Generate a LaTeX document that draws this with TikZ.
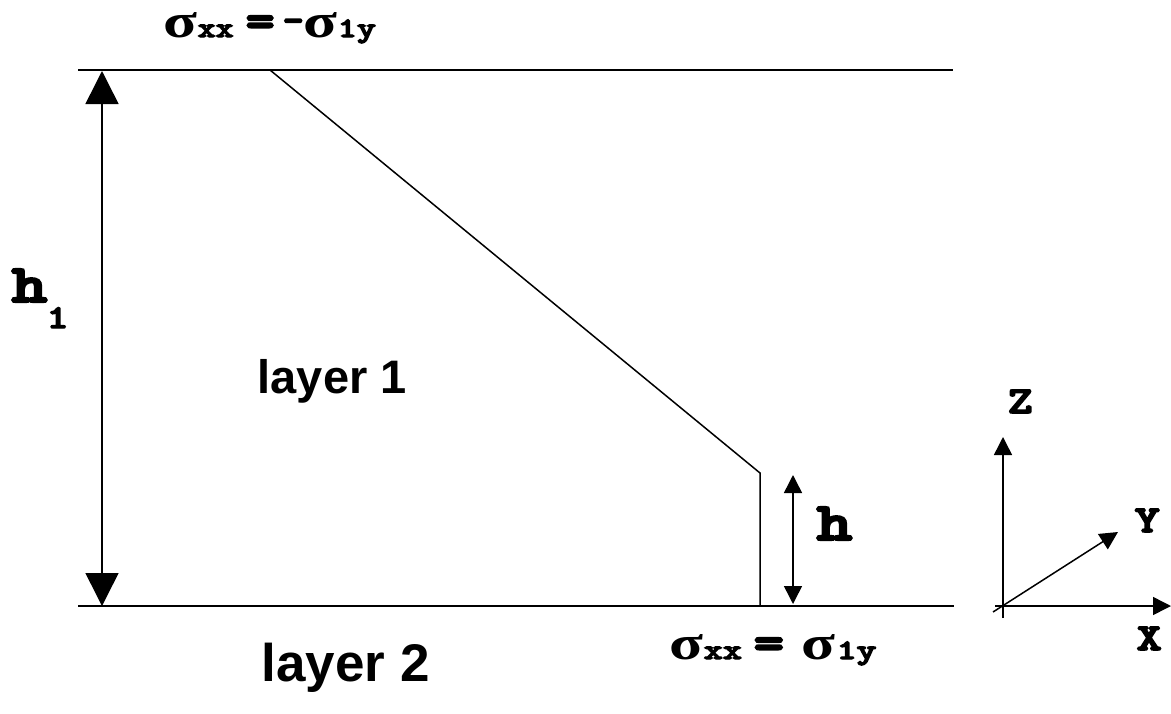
\documentclass[tikz,border=0pt]{standalone}
\usepackage{fontspec}
\usepackage{graphicx}
\setmainfont{Liberation Serif}
\newfontfamily\courfam{lmmonolt10-bold.otf}[FakeBold=4]
\newfontfamily\arialfam{Liberation Sans}
\usetikzlibrary{arrows.meta}
% mono text: size, horizontal stretch, text
\newcommand\mono[3]{\scalebox{#2}[1]{\courfam\fontsize{#1}{#1}\selectfont #3}}
\newcommand\sig[1]{\scalebox{1.3}[1]{\bfseries\fontsize{#1}{#1}\selectfont σ}}
\begin{document}
\begin{tikzpicture}[x=1pt,y=-1pt,line width=1.5pt,
  bigtip/.style={{Triangle[width=33pt,length=33pt]}-{Triangle[width=33pt,length=33pt]}},
  smalltip/.style={{Triangle[width=18pt,length=18pt]}-{Triangle[width=18pt,length=18pt]}},
  axis/.style={-{Triangle[width=18pt,length=18pt]}},
  lbl/.style={inner sep=0pt,anchor=base west},
  layertxt/.style={lbl,font=\arialfam\bfseries}]
\useasboundingbox (0,0) rectangle (1171,713);
% boundary lines
\coordinate (tl) at (78,70);
\coordinate (tr) at (953,70);
\coordinate (bl) at (78,606);
\coordinate (br) at (954,606);
\draw (tl) -- (tr);
\draw (bl) -- (br);
% stress profile
\coordinate (d0) at (270,70);
\coordinate (d1) at (760,473);
\coordinate (d2) at (760,606);
\draw (d0) -- (d1) -- (d2);
% h1 dimension
\coordinate (h1b) at (102,606);
\coordinate (h1t) at (102,71);
\draw[bigtip] (h1b) -- (h1t);
\node[lbl] (h1lab) at (11,302) {\mono{54}{1.25}{h}};
\node[lbl] (h1sub) at (46,328) {\mono{33}{1.25}{1}};
% h dimension
\coordinate (hb) at (793,604);
\coordinate (ht) at (793,475);
\draw[smalltip] (hb) -- (ht);
\node[lbl] (hlab) at (816,540) {\mono{54}{1.25}{h}};
% layer labels
\node[layertxt,font=\arialfam\bfseries\fontsize{47}{47}\selectfont] (lay1) at (257,393) {layer 1};
\node[layertxt,font=\arialfam\bfseries\fontsize{53}{53}\selectfont] (lay2) at (261,681) {layer 2};
% top stress label
\node[lbl] (ts1) at (163,37) {\sig{48}};
\node[lbl] (tsub1) at (197,37) {\mono{28}{1.22}{xx}};
\node[lbl] (teq) at (245,37) {\mono{50}{1.1}{=}};
\node[lbl] (tneg) at (282,33) {\mono{40}{1.0}{-}};
\node[lbl] (ts2) at (303,37) {\sig{48}};
\node[lbl] (tsub2) at (337,37) {\mono{28}{1.3}{1y}};
% bottom stress label
\node[lbl] (bs1) at (669,659) {\sig{48}};
\node[lbl] (bsub1) at (703,659) {\mono{28}{1.3}{xx}};
\node[lbl] (beq) at (753,659) {\mono{50}{1.15}{=}};
\node[lbl] (bs2) at (801,659) {\sig{48}};
\node[lbl] (bsub2) at (836,659) {\mono{28}{1.35}{1y}};
% axes
\coordinate (o) at (1003,606);
\coordinate (zb) at (1003,618);
\coordinate (zt) at (1003,437);
\coordinate (xb) at (995,606);
\coordinate (xt) at (1171,606);
\coordinate (yb) at (993,612);
\coordinate (yt) at (1118,532);
\draw[axis] (zb) -- (zt);
\draw[axis] (xb) -- (xt);
\draw[axis] (yb) -- (yt);
\node[lbl] (zlab) at (1007,413) {\mono{38}{1.25}{Z}};
\node[lbl] (ylab) at (1134,532) {\mono{38}{1.25}{Y}};
\node[lbl] (xlab) at (1136,650) {\mono{38}{1.25}{X}};
\end{tikzpicture}
\end{document}
